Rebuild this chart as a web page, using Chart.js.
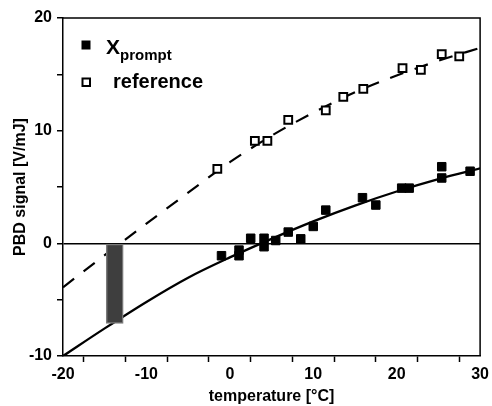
<!DOCTYPE html>
<html>
<head>
<meta charset="utf-8">
<title>PBD signal</title>
<script src="https://cdn.jsdelivr.net/npm/chart.js@4.4.1/dist/chart.umd.min.js"></script>
<style>
	body { margin: 0; background: #fff; }
	canvas { display: block; }
</style>
</head>
<body>
<canvas id="MyChart1" width="492" height="406"></canvas>
<script>
	// measured points
	var tempPrompt = [ -1.0, 1.1, 1.1, 2.5, 4.1, 4.1, 5.5, 7.0, 8.5, 10.0, 11.5, 15.9, 17.5, 20.6, 21.5, 25.4, 25.4, 28.8 ];
	var signalPrompt = [ -1.1, -0.6, -1.1, 0.45, 0.45, -0.3, 0.25, 1.0, 0.4, 1.5, 2.95, 4.05, 3.4, 4.9, 4.9, 6.8, 5.8, 6.4 ];
	var tempRef = [ -1.5, 3.0, 4.5, 7.0, 11.5, 13.6, 16.0, 20.7, 22.9, 25.4, 27.5 ];
	var signalRef = [ 6.6, 9.1, 9.1, 10.95, 11.8, 13.0, 13.7, 15.55, 15.4, 16.8, 16.6 ];

	// fitted curves
	var curveTemp = [ -20, -15, -10, -5, 0, 5, 10, 15, 20, 25, 30 ];
	var fitPrompt = [ -10.0, -7.55, -5.2, -3.05, -1.25, 0.4, 1.95, 3.35, 4.6, 5.7, 6.65 ];
	var fitRef = [ -3.9, -1.05, 1.75, 4.5, 7.2, 9.55, 11.6, 13.4, 14.9, 16.2, 17.35 ];

	// shaded band
	var bandTemp = -13.8;
	var bandSignal = [ -7.1, 0 ];

	var xTicks = [ -20, -10, 0, 10, 20, 30 ];
	var yTicks = [ -10, 0, 10, 20 ];

	function pairs(xs, ys) {
		var out = [];
		for (var i = 0; i < xs.length; i++) {
			out.push({ x : xs[i], y : ys[i] });
		}
		return out;
	}

	var FONT = "'Liberation Sans', Arial, Helvetica, sans-serif";

	// top/right frame plus the legend with subscript
	var framePlugin = {
		id : 'frame',
		afterDraw : function(chart) {
			var c = chart.ctx, a = chart.chartArea;
			c.save();
			c.strokeStyle = '#000';
			c.lineWidth = 1.5;
			c.beginPath();
			c.moveTo(a.left, a.top);
			c.lineTo(a.right, a.top);
			c.lineTo(a.right, a.bottom);
			c.stroke();

			c.fillStyle = '#000';
			c.fillRect(81.5, 40.5, 9, 9);
			c.lineWidth = 2;
			c.strokeRect(82.5, 78.5, 7.5, 7.5);

			c.textBaseline = 'alphabetic';
			c.textAlign = 'left';
			c.font = 'bold 21px ' + FONT;
			c.fillText('X', 106, 54);
			c.font = 'bold 15px ' + FONT;
			c.fillText('prompt', 120, 60);
			c.font = 'bold 20px ' + FONT;
			c.fillText('reference', 113, 88);
			c.restore();
		}
	};

	var ctx = document.getElementById('MyChart1').getContext('2d');
	var chart = new Chart(ctx, {
		type : 'scatter',
		data : {
			datasets : [ {
				label : 'Xprompt',
				data : pairs(tempPrompt, signalPrompt),
				pointStyle : 'rect',
				pointRadius : 6,
				backgroundColor : '#000',
				borderColor : '#000',
				borderWidth : 1
			}, {
				label : 'reference',
				data : pairs(tempRef, signalRef),
				pointStyle : 'rect',
				pointRadius : 5.5,
				backgroundColor : '#fff',
				borderColor : '#000',
				borderWidth : 2
			}, {
				type : 'bar',
				label : 'band',
				data : [ { x : bandTemp, y : bandSignal } ],
				backgroundColor : '#3e3e3e',
				borderColor : '#7a7a7a',
				borderWidth : 1.5,
				borderSkipped : false,
				barThickness : 17
			}, {
				type : 'line',
				label : 'fit prompt',
				data : pairs(curveTemp, fitPrompt),
				borderColor : '#000',
				borderWidth : 2.3,
				pointRadius : 0,
				cubicInterpolationMode : 'monotone',
				fill : false
			}, {
				type : 'line',
				label : 'fit reference',
				data : pairs(curveTemp, fitRef),
				borderColor : '#000',
				borderWidth : 2.2,
				borderDash : [ 14, 12 ],
				pointRadius : 0,
				cubicInterpolationMode : 'monotone',
				fill : false
			} ]
		},
		options : {
			responsive : false,
			animation : false,
			layout : {
				padding : { top : 18, right : 8, left : 0, bottom : 0 }
			},
			plugins : {
				legend : { display : false },
				tooltip : { enabled : false }
			},
			scales : {
				x : {
					type : 'linear',
					min : -20,
					max : 30,
					offset : false,
					afterFit : function(s) { s.height = 50; },
					ticks : {
						stepSize : 5,
						padding : 3,
						color : '#000',
						font : { family : FONT, size : 16, weight : 'bold' },
						callback : function(v) { return xTicks.indexOf(v) >= 0 ? v : ''; }
					},
					grid : {
						drawOnChartArea : false,
						tickLength : 6,
						tickColor : '#000',
						tickWidth : 1.5
					},
					border : { display : true, color : '#000', width : 1.5 },
					title : {
						display : true,
						text : 'temperature [°C]',
						color : '#000',
						padding : { top : 0, bottom : 0 },
						font : { family : FONT, size : 16, weight : 'bold' }
					}
				},
				y : {
					type : 'linear',
					min : -10,
					max : 20,
					afterFit : function(s) { s.width = 63; },
					ticks : {
						stepSize : 5,
						padding : 5,
						color : '#000',
						font : { family : FONT, size : 16, weight : 'bold' },
						callback : function(v) { return yTicks.indexOf(v) >= 0 ? v : ''; }
					},
					grid : {
						color : function(c) { return c.tick && c.tick.value === 0 ? '#000' : 'rgba(0,0,0,0)'; },
						lineWidth : 1.5,
						tickLength : 6,
						tickColor : '#000',
						tickWidth : 1.5
					},
					border : { display : true, color : '#000', width : 1.5 },
					title : {
						display : true,
						text : 'PBD signal [V/mJ]',
						color : '#000',
						padding : { top : 11, bottom : 0 },
						font : { family : FONT, size : 16, weight : 'bold' }
					}
				}
			}
		},
		plugins : [ framePlugin ]
	});
</script>
</body>
</html>
